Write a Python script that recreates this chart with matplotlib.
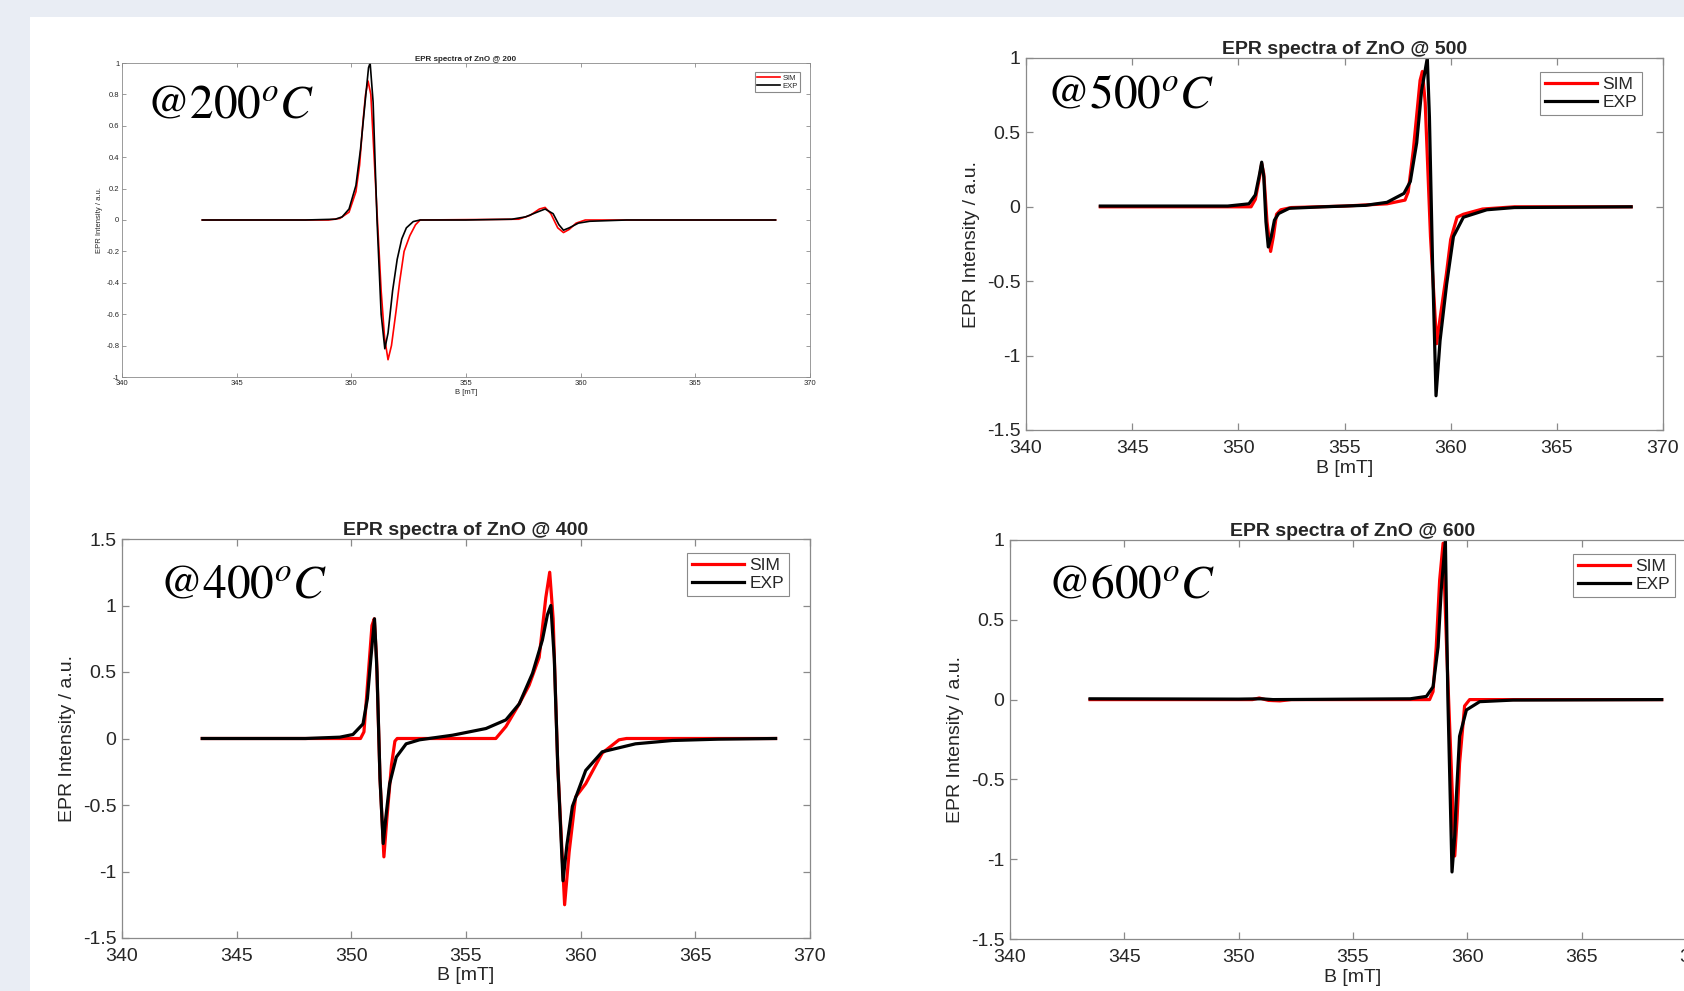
# EPR spectra of ZnO (SIM vs EXP) at four annealing temperatures, slide layout

import matplotlib
matplotlib.use("Agg")
import matplotlib.pyplot as plt
from matplotlib.patches import Rectangle

W, H = 1684, 991

# ---- data (B in mT, intensity in a.u.) ----
b_exp200 = [343.5, 348.0, 349.3, 349.6, 349.9, 350.2, 350.4, 350.6, 350.75, 350.82, 350.95, 351.12, 351.3, 351.46,
            351.6, 351.8, 352.0, 352.2, 352.4, 352.7, 353.0, 355.0, 357.0, 357.6, 358.1, 358.45, 358.8, 359.05, 359.25,
            359.5, 359.9, 360.4, 362.0, 368.5]
exp200 = [0.0, 0.0, 0.005, 0.02, 0.07, 0.22, 0.45, 0.75, 0.97, 1.0, 0.75, 0.0, -0.6, -0.82,
          -0.72, -0.45, -0.25, -0.12, -0.05, -0.01, 0.0, 0.0, 0.005, 0.02, 0.05, 0.07, 0.04, -0.03, -0.065,
          -0.05, -0.02, -0.008, 0.0, 0.0]
b_sim200 = [343.5, 349.0, 349.5, 349.9, 350.2, 350.36, 350.51, 350.62, 350.73, 350.85, 351.12, 351.3, 351.45, 351.6,
            351.75, 351.95, 352.11, 352.3, 352.55, 352.8, 353.0, 357.3, 357.8, 358.2, 358.45, 358.7, 359.0, 359.25,
            359.5, 359.8, 360.2, 368.5]
sim200 = [0.0, 0.0, 0.01, 0.05, 0.18, 0.35, 0.63, 0.8, 0.885, 0.8, 0.05, -0.45, -0.75, -0.89,
          -0.8, -0.58, -0.39, -0.2, -0.1, -0.03, 0.0, 0.005, 0.03, 0.07, 0.08, 0.04, -0.05, -0.08,
          -0.06, -0.02, 0.0, 0.0]

b_exp500 = [343.5, 349.5, 350.5, 350.8, 351.0, 351.1, 351.2, 351.3, 351.41, 351.55, 351.7, 351.9, 352.4, 354.0,
            356.0, 357.0, 357.8, 358.1, 358.4, 358.63, 358.9, 359.0, 359.15, 359.31, 359.5, 359.81, 360.13, 360.6,
            361.7, 363.0, 368.5]
exp500 = [0.005, 0.005, 0.02, 0.08, 0.22, 0.30, 0.2, -0.1, -0.27, -0.2, -0.09, -0.045, -0.01, 0.0,
          0.01, 0.03, 0.09, 0.17, 0.43, 0.78, 1.0, 0.6, -0.4, -1.27, -0.9, -0.52, -0.2, -0.07,
          -0.02, -0.005, 0.0]
b_sim500 = [343.5, 350.6, 350.8, 351.0, 351.1, 351.2, 351.35, 351.52, 351.65, 351.8, 352.0, 352.5, 355.0, 357.0,
            357.85, 358.0, 358.24, 358.56, 358.67, 358.8, 359.05, 359.34, 359.5, 359.8, 360.0, 360.3, 360.6, 361.5,
            363.0, 368.5]
sim500 = [0.0, 0.0, 0.05, 0.2, 0.29, 0.22, -0.1, -0.30, -0.2, -0.05, -0.02, -0.005, 0.005, 0.02,
          0.045, 0.1, 0.38, 0.85, 0.91, 0.7, -0.2, -0.92, -0.75, -0.45, -0.22, -0.07, -0.05, -0.015,
          0.0, 0.0]

b_exp400 = [343.5, 348.0, 349.5, 350.07, 350.51, 350.7, 350.85, 351.01, 351.12, 351.25, 351.39, 351.5, 351.67, 351.96,
            352.39, 352.97, 354.42, 355.87, 356.74, 357.32, 357.9, 358.33, 358.55, 358.70, 358.85, 359.0, 359.23,
            359.4, 359.64, 360.22, 360.94, 362.39, 364.0, 366.0, 368.5]
exp400 = [0.0, 0.0, 0.01, 0.03, 0.11, 0.3, 0.6, 0.90, 0.5, -0.3, -0.79, -0.6, -0.34, -0.14,
          -0.04, -0.01, 0.025, 0.075, 0.14, 0.26, 0.49, 0.74, 0.93, 1.0, 0.6, -0.2, -1.07,
          -0.8, -0.51, -0.24, -0.10, -0.04, -0.015, -0.005, 0.0]
b_sim400 = [343.5, 350.4, 350.55, 350.72, 350.9, 351.0, 351.1, 351.25, 351.42, 351.55, 351.75, 351.9, 352.0, 356.3,
            356.74, 357.32, 357.75, 358.19, 358.48, 358.65, 358.8, 359.0, 359.3, 359.5, 359.78, 360.22, 360.94,
            361.67, 362.0, 368.5]
sim400 = [0.0, 0.0, 0.05, 0.44, 0.85, 0.9, 0.6, -0.3, -0.89, -0.6, -0.2, -0.02, 0.0, 0.0,
          0.09, 0.26, 0.40, 0.61, 1.06, 1.25, 0.9, -0.2, -1.25, -0.85, -0.44, -0.34, -0.11,
          -0.01, 0.0, 0.0]

b_exp600 = [343.5, 350.0, 351.0, 351.5, 357.5, 358.21, 358.5, 358.72, 358.86, 359.04, 359.15, 359.33, 359.45, 359.52,
            359.66, 359.96, 360.54, 362.0, 368.5]
exp600 = [0.005, 0.003, 0.005, 0.0, 0.005, 0.02, 0.08, 0.33, 0.69, 1.0, 0.0, -1.08, -0.85, -0.61,
          -0.23, -0.065, -0.013, -0.003, 0.0]
b_sim600 = [343.5, 350.6, 350.9, 351.3, 351.8, 352.3, 358.35, 358.5, 358.64, 358.79, 358.94, 359.1, 359.45, 359.55,
            359.66, 359.88, 360.1, 368.5]
sim600 = [0.0, 0.0, 0.01, -0.005, -0.008, 0.0, 0.0, 0.05, 0.33, 0.75, 0.98, 0.3, -0.98, -0.75,
          -0.40, -0.04, 0.0, 0.0]

panels = [
    # temp, pixel box (x0, y0, x1, y1), ylim, yticks, sim, exp
    ('200', (122, 63, 810, 377), (-1, 1), [-1, -0.8, -0.6, -0.4, -0.2, 0, 0.2, 0.4, 0.6, 0.8, 1],
     (b_sim200, sim200), (b_exp200, exp200)),
    ('500', (1026, 58, 1663, 430), (-1.5, 1), [-1.5, -1, -0.5, 0, 0.5, 1],
     (b_sim500, sim500), (b_exp500, exp500)),
    ('400', (122, 539, 810, 938), (-1.5, 1.5), [-1.5, -1, -0.5, 0, 0.5, 1, 1.5],
     (b_sim400, sim400), (b_exp400, exp400)),
    ('600', (1010, 540, 1696, 939), (-1.5, 1), [-1.5, -1, -0.5, 0, 0.5, 1],
     (b_sim600, sim600), (b_exp600, exp600)),
]
# where the "@T°C" stamp sits (left, baseline), pixels
stamp_pos = {'200': (146, 117), '500': (1046, 108), '400': (159, 597), '600': (1047, 597)}

plt.rcParams['font.family'] = ['Liberation Sans', 'DejaVu Sans']
plt.rcParams['mathtext.fontset'] = 'stix'

fig = plt.figure(figsize=(W / 100, H / 100), dpi=100, facecolor='#e9edf4')
fig.patches.append(Rectangle((30 / W, 0), 1 - 30 / W, 1 - 17 / H, transform=fig.transFigure,
                             facecolor='white', edgecolor='none', zorder=-5))

spine_col = '#8a8a8a'
txt_col = '#262626'

for temp, (x0, y0, x1, y1), ylim, yticks, sim, exp in panels:
    small = temp == '200'
    fs = 5.5 if small else 14
    lw = 1.2 if small else 2.3
    ax = fig.add_axes([x0 / W, 1 - y1 / H, (x1 - x0) / W, (y1 - y0) / H])
    ax.set_zorder(1)
    ax.plot(sim[0], sim[1], color='red', lw=lw, label='SIM')
    ax.plot(exp[0], exp[1], color='black', lw=lw, label='EXP')
    ax.set_xlim(340, 370)
    ax.set_ylim(*ylim)
    ax.set_xticks([340, 345, 350, 355, 360, 365, 370])
    ax.set_yticks(yticks)
    ax.set_yticklabels(['%g' % v for v in yticks])
    ax.tick_params(direction='in', top=True, right=True, labelsize=fs, colors=spine_col,
                   labelcolor=txt_col, length=3 if small else 5, width=0.6 if small else 0.9,
                   pad=2 if small else 4)
    ax.tick_params(axis='x', pad=2.5 if small else 7)
    for s in ax.spines.values():
        s.set_color(spine_col)
        s.set_linewidth(0.6 if small else 0.9)
    ax.set_xlabel('B [mT]', fontsize=fs, color=txt_col, labelpad=1 if small else 2)
    ax.set_ylabel('EPR Intensity / a.u.', fontsize=fs, color=txt_col, labelpad=2 if small else 5)
    ax.set_title('EPR spectra of ZnO @ ' + temp, fontsize=fs + (0.3 if small else 0), fontweight='bold',
                 color=txt_col, pad=1.5 if small else 3)
    if small:
        leg = ax.legend(loc='upper right', bbox_to_anchor=(1 - 10 / (x1 - x0), 1 - 9 / (y1 - y0)),
                        borderaxespad=0, fontsize=5.5, handlelength=3.0, handletextpad=0.3,
                        borderpad=0.3, labelspacing=0.15, fancybox=False, framealpha=1)
    else:
        leg = ax.legend(loc='upper right', bbox_to_anchor=(1 - 21 / (x1 - x0), 1 - 14 / (y1 - y0)),
                        borderaxespad=0, fontsize=12.5, handlelength=3.0, handletextpad=0.3,
                        borderpad=0.3, labelspacing=0.15, fancybox=False, framealpha=1)
    leg.get_frame().set_edgecolor(spine_col)
    leg.get_frame().set_linewidth(0.8)
    for t in leg.get_texts():
        t.set_color(txt_col)

    sx, sy = stamp_pos[temp]
    ax.text(sx / W, 1 - sy / H, '@' + temp + r'$^{o}C$', fontsize=34, family='STIXGeneral',
            va='baseline', ha='left', color='black', transform=fig.transFigure, zorder=5)

fig.savefig('out.png', dpi=100, facecolor=fig.get_facecolor())
